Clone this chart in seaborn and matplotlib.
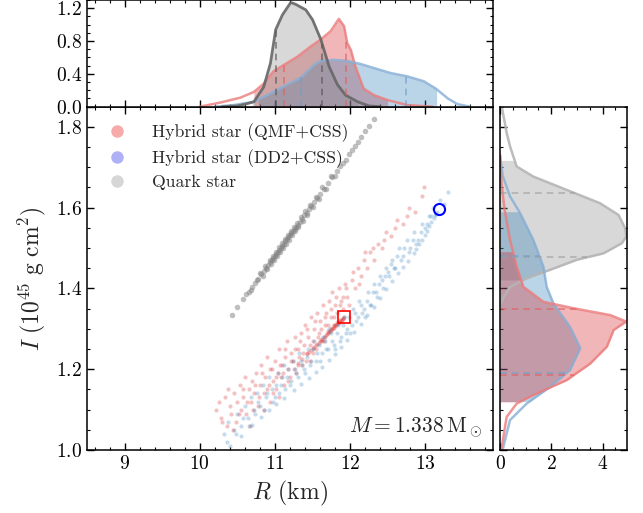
import numpy as np
import matplotlib
matplotlib.use("Agg")
import matplotlib.pyplot as plt
import seaborn as sns
from matplotlib.lines import Line2D
from matplotlib.ticker import MultipleLocator

sns.set_style("ticks")
plt.rcParams.update({
    "font.family": "serif",
    "font.serif": ["cmr10"],
    "mathtext.fontset": "cm",
    "axes.formatter.use_mathtext": True,
    "axes.unicode_minus": False,
    "axes.linewidth": 1.1,
    "axes.edgecolor": "black",
    "xtick.direction": "in", "ytick.direction": "in",
    "xtick.top": True, "ytick.right": True,
    "xtick.major.size": 5, "ytick.major.size": 5,
    "xtick.minor.size": 2.5, "ytick.minor.size": 2.5,
    "xtick.major.width": 1.0, "ytick.major.width": 1.0,
    "xtick.minor.width": 0.8, "ytick.minor.width": 0.8,
    "xtick.color": "black", "ytick.color": "black",
    "xtick.labelsize": 14, "ytick.labelsize": 14,
})

# ---------------- samples in the R-I plane ----------------
qmf_R = [10.22, 10.25, 10.28, 10.33, 10.36, 10.40, 10.42, 10.45, 10.48, 10.50,
         10.53, 10.55, 10.58, 10.60, 10.62, 10.65, 10.68, 10.70, 10.72, 10.75,
         10.77, 10.80, 10.82, 10.85, 10.87, 10.90, 10.92, 10.94, 10.96, 10.98,
         11.00, 11.02, 11.04, 11.06, 11.08, 11.10, 11.12, 11.14, 11.16, 11.18,
         11.20, 11.22, 11.24, 11.26, 11.28, 11.30, 11.32, 11.34, 11.36, 11.38,
         11.40, 11.42, 11.44, 11.46, 11.48, 11.50, 11.52, 11.54, 11.56, 11.58,
         11.60, 11.62, 11.64, 11.66, 11.68, 11.70, 11.72, 11.74, 11.76, 11.78,
         11.80, 11.83, 11.85, 11.88, 11.90, 11.93, 11.96, 11.99,
         12.02, 12.06, 12.10, 12.14, 12.18, 12.22, 12.27, 12.32, 12.37, 12.42,
         12.48, 12.55, 12.62, 12.70, 12.78, 12.86, 12.95, 12.98,
         10.30, 10.38, 10.44, 10.52, 10.57, 10.63, 10.67, 10.71, 10.74, 10.79,
         10.83, 10.86, 10.89, 10.93, 10.97, 11.01, 11.05, 11.07, 11.11, 11.13,
         11.17, 11.21, 11.25, 11.27, 11.31, 11.33, 11.37, 11.41, 11.43, 11.47,
         11.51, 11.53, 11.57, 11.61, 11.65, 11.67, 11.71, 11.75, 11.79, 11.81,
         11.86, 11.91, 11.95, 12.04, 12.12, 12.20, 12.30, 12.45, 12.60, 12.75,
         11.30, 11.36, 11.42, 11.48, 11.52, 11.56, 11.60, 11.63, 11.66, 11.69,
         11.72, 11.74, 11.76, 11.78, 11.80, 11.82, 11.84, 11.86, 11.88, 11.90,
         11.92, 11.71, 11.75, 11.79, 11.83, 11.87, 11.91,
         11.45, 11.50, 11.54, 11.58, 11.61, 11.65, 11.68, 11.73, 11.77, 11.81,
         11.85, 11.89]
qmf_I = [1.10, 1.12, 1.08, 1.13, 1.06, 1.11, 1.09, 1.14, 1.07, 1.12,
         1.16, 1.10, 1.13, 1.18, 1.09, 1.15, 1.12, 1.17, 1.14, 1.19,
         1.11, 1.16, 1.21, 1.14, 1.18, 1.23, 1.16, 1.12, 1.20, 1.17,
         1.22, 1.15, 1.19, 1.25, 1.18, 1.21, 1.16, 1.23, 1.27, 1.20,
         1.18, 1.24, 1.22, 1.28, 1.19, 1.25, 1.23, 1.29, 1.21, 1.26,
         1.31, 1.24, 1.28, 1.22, 1.33, 1.27, 1.30, 1.25, 1.34, 1.29,
         1.32, 1.27, 1.36, 1.31, 1.34, 1.29, 1.37, 1.33, 1.39, 1.31,
         1.36, 1.34, 1.40, 1.37, 1.35, 1.41, 1.38, 1.36,
         1.42, 1.40, 1.45, 1.43, 1.47, 1.45, 1.49, 1.47, 1.51, 1.50,
         1.54, 1.53, 1.57, 1.56, 1.60, 1.59, 1.63, 1.65,
         1.07, 1.15, 1.05, 1.09, 1.15, 1.12, 1.06, 1.10, 1.16, 1.13,
         1.19, 1.10, 1.15, 1.20, 1.14, 1.18, 1.13, 1.21, 1.19, 1.25,
         1.17, 1.22, 1.20, 1.25, 1.21, 1.27, 1.24, 1.22, 1.30, 1.26,
         1.24, 1.32, 1.28, 1.30, 1.27, 1.33, 1.31, 1.35, 1.33, 1.38,
         1.36, 1.38, 1.40, 1.44, 1.41, 1.49, 1.50, 1.52, 1.55, 1.58,
         1.215, 1.226, 1.237, 1.248, 1.255, 1.263, 1.270, 1.276, 1.281, 1.287,
         1.292, 1.296, 1.300, 1.303, 1.307, 1.311, 1.314, 1.318, 1.322, 1.325,
         1.329, 1.294, 1.301, 1.309, 1.316, 1.323, 1.327,
         1.243, 1.252, 1.259, 1.266, 1.272, 1.279, 1.285, 1.294, 1.301, 1.309,
         1.316, 1.323]

dd2_R = [10.40, 10.55, 10.70, 10.81, 10.92, 11.02, 11.12, 11.25, 11.35, 11.45,
         11.55, 11.63, 11.72, 11.80, 11.88, 11.96, 12.05, 12.14, 12.23, 12.32,
         12.40, 12.48, 12.56, 12.63, 12.70, 12.77, 12.85, 12.92, 12.99, 13.05,
         13.11, 13.16, 12.88, 12.95, 13.02, 13.08, 13.13,
         10.32, 10.38, 10.45, 10.50, 10.55, 10.60, 10.64, 10.68, 10.72, 10.76,
         10.80, 10.84, 10.88, 10.92, 10.96, 11.00, 11.04, 11.08, 11.12, 11.16,
         11.20, 11.24, 11.28, 11.32, 11.36, 11.40, 11.44, 11.48, 11.52, 11.56,
         11.60, 11.64, 11.68, 11.72, 11.76, 11.80, 11.84, 11.88, 11.92, 11.96,
         12.00, 12.04, 12.08, 12.12, 12.16, 12.20, 12.24, 12.28, 12.32, 12.36,
         12.40, 12.44, 12.48, 12.52, 12.56, 12.60, 12.65, 12.70, 12.75, 12.80,
         12.85, 12.90, 12.95, 13.00, 13.05, 13.10, 13.20, 13.30,
         10.36, 10.48, 10.58, 10.66, 10.74, 10.78, 10.86, 10.90, 10.98, 11.02,
         11.06, 11.10, 11.14, 11.18, 11.22, 11.26, 11.30, 11.34, 11.38, 11.42,
         11.46, 11.50, 11.54, 11.58, 11.62, 11.66, 11.70, 11.74, 11.78, 11.82,
         11.86, 11.90, 11.94, 11.98, 12.02, 12.06, 12.10, 12.14, 12.18, 12.22,
         12.26, 12.30, 12.34, 12.38, 12.42, 12.46, 12.50, 12.54, 12.58, 12.62,
         12.67, 12.72, 12.78, 12.83, 12.88, 12.94, 13.02, 13.08, 13.14, 13.25]
dd2_I = [1.010, 1.035, 1.062, 1.082, 1.098, 1.113, 1.128, 1.148, 1.163, 1.178,
         1.194, 1.206, 1.222, 1.238, 1.255, 1.272, 1.292, 1.313, 1.334, 1.355,
         1.376, 1.398, 1.419, 1.438, 1.453, 1.469, 1.487, 1.510, 1.533, 1.555,
         1.575, 1.590, 1.497, 1.520, 1.543, 1.565, 1.582,
         1.04, 1.07, 1.05, 1.09, 1.06, 1.11, 1.08, 1.13, 1.10, 1.14,
         1.11, 1.16, 1.13, 1.18, 1.15, 1.13, 1.19, 1.16, 1.21, 1.18,
         1.16, 1.22, 1.19, 1.24, 1.21, 1.19, 1.25, 1.22, 1.27, 1.24,
         1.22, 1.28, 1.25, 1.30, 1.27, 1.25, 1.31, 1.28, 1.33, 1.30,
         1.29, 1.35, 1.32, 1.37, 1.34, 1.33, 1.39, 1.36, 1.41, 1.38,
         1.43, 1.40, 1.45, 1.43, 1.47, 1.45, 1.50, 1.48, 1.52, 1.50,
         1.54, 1.52, 1.56, 1.55, 1.58, 1.60, 1.62, 1.64,
         1.02, 1.04, 1.08, 1.06, 1.09, 1.12, 1.10, 1.14, 1.12, 1.16,
         1.14, 1.18, 1.15, 1.20, 1.17, 1.20, 1.18, 1.22, 1.20, 1.23,
         1.21, 1.25, 1.22, 1.26, 1.24, 1.27, 1.25, 1.29, 1.26, 1.29,
         1.27, 1.31, 1.29, 1.33, 1.31, 1.34, 1.33, 1.36, 1.35, 1.37,
         1.36, 1.39, 1.39, 1.41, 1.42, 1.43, 1.44, 1.46, 1.45, 1.48,
         1.47, 1.50, 1.49, 1.52, 1.51, 1.54, 1.56, 1.58, 1.585, 1.61]

qs_R = [10.43, 10.50, 10.58, 10.65, 10.70, 10.74, 10.78, 10.82, 10.85, 10.88,
        10.91, 10.94, 10.96, 10.98, 11.00, 11.02, 11.04, 11.06, 11.08, 11.10,
        11.12, 11.14, 11.16, 11.18, 11.20, 11.22, 11.24, 11.26, 11.28, 11.30,
        11.33, 11.36, 11.39, 11.42, 11.45, 11.48, 11.52, 11.56, 11.60, 11.65,
        11.70, 11.76, 11.82, 11.90, 11.98, 12.06, 12.15, 12.25, 12.32,
        10.80, 10.84, 10.87, 10.90, 10.93, 10.95, 10.97, 10.99, 11.01, 11.03,
        11.05, 11.07, 11.09, 11.11, 11.13, 11.15, 11.17, 11.19, 11.21, 11.23,
        11.25, 11.27, 11.29, 11.31, 11.34, 11.37, 11.40, 11.43, 11.46, 11.50,
        11.54, 11.58, 11.63, 11.68, 11.74, 11.80,
        10.62, 10.68, 10.76, 11.86, 11.94, 12.02, 12.10, 12.20]
qs_I = [1.335, 1.353, 1.373, 1.391, 1.404, 1.414, 1.424, 1.435, 1.442, 1.450,
        1.458, 1.465, 1.471, 1.476, 1.481, 1.486, 1.491, 1.496, 1.501, 1.506,
        1.511, 1.517, 1.522, 1.527, 1.532, 1.537, 1.542, 1.547, 1.552, 1.558,
        1.565, 1.573, 1.581, 1.588, 1.596, 1.604, 1.614, 1.624, 1.634, 1.647,
        1.660, 1.675, 1.691, 1.711, 1.732, 1.752, 1.775, 1.801, 1.819,
        1.438, 1.432, 1.456, 1.447, 1.471, 1.460, 1.481, 1.470, 1.491, 1.480,
        1.502, 1.491, 1.512, 1.501, 1.522, 1.511, 1.532, 1.521, 1.543, 1.532,
        1.553, 1.542, 1.563, 1.552, 1.576, 1.568, 1.591, 1.583, 1.607, 1.601,
        1.627, 1.621, 1.650, 1.647, 1.678, 1.678,
        1.386, 1.397, 1.421, 1.704, 1.719, 1.744, 1.762, 1.790]

# highlighted models
qmf_mark = (11.92, 1.329)
dd2_mark = (13.18, 1.597)

# ---------------- marginal densities ----------------
# radius
qs_kR = [10.30, 10.50, 10.60, 10.72, 10.85, 10.94, 11.01, 11.10, 11.21, 11.27,
         11.41, 11.50, 11.61, 11.72, 11.83, 11.94, 12.10, 12.25, 12.40]
qs_kRd = [0.00, 0.01, 0.03, 0.06, 0.24, 0.53, 0.94, 1.12, 1.27, 1.25,
          1.18, 1.06, 0.82, 0.49, 0.27, 0.14, 0.06, 0.01, 0.00]
qmf_kR = [10.00, 10.27, 10.54, 10.72, 10.85, 10.98, 11.12, 11.30, 11.47, 11.61,
          11.74, 11.85, 11.92, 11.96, 12.01, 12.07, 12.18, 12.32, 12.50, 12.76, 13.10]
qmf_kRd = [0.00, 0.05, 0.11, 0.18, 0.28, 0.43, 0.51, 0.61, 0.73, 0.82,
           0.92, 1.07, 0.98, 0.78, 0.69, 0.49, 0.22, 0.14, 0.08, 0.02, 0.00]
dd2_kR = [10.20, 10.45, 10.72, 10.94, 11.16, 11.34, 11.52, 11.61, 11.78, 11.95,
          12.14, 12.32, 12.54, 12.76, 12.98, 13.14, 13.30, 13.43, 13.60]
dd2_kRd = [0.00, 0.02, 0.06, 0.16, 0.27, 0.35, 0.51, 0.56, 0.57, 0.56,
           0.52, 0.47, 0.41, 0.37, 0.31, 0.22, 0.10, 0.03, 0.00]

# moment of inertia
qs_kI = [1.360, 1.370, 1.404, 1.425, 1.446, 1.471, 1.487, 1.512, 1.529, 1.549,
         1.582, 1.611, 1.644, 1.677, 1.702, 1.752, 1.785, 1.850]
qs_kId = [0.00, 0.07, 0.39, 1.04, 1.95, 3.00, 4.04, 4.75, 4.93, 4.88,
          4.62, 3.90, 2.60, 1.30, 0.65, 0.39, 0.26, 0.07]
qmf_kI = [0.980, 1.000, 1.082, 1.115, 1.136, 1.173, 1.214, 1.256, 1.297, 1.318,
          1.334, 1.351, 1.367, 1.404, 1.454, 1.520, 1.595, 1.660, 1.730]
qmf_kId = [0.02, 0.05, 0.26, 0.65, 1.30, 2.60, 3.52, 4.17, 4.43, 4.92,
           4.30, 2.86, 1.69, 0.91, 0.65, 0.39, 0.18, 0.06, 0.00]
dd2_kI = [0.980, 1.000, 1.074, 1.115, 1.156, 1.198, 1.252, 1.305, 1.363, 1.404,
          1.454, 1.520, 1.587, 1.628, 1.680, 1.730]
dd2_kId = [0.05, 0.10, 0.39, 1.04, 1.95, 2.73, 3.13, 2.73, 2.08, 1.82,
           1.69, 1.30, 0.78, 0.39, 0.10, 0.00]

# shaded credible ranges and dashed quantiles
qs_R_band, qs_R_q = (10.70, 12.10), (11.02, 11.63)
qmf_R_band, qmf_R_q = (10.72, 12.50), (11.12, 11.95)
dd2_R_band, dd2_R_q = (10.78, 13.15), (11.35, 12.74)
qs_I_band, qs_I_q = (1.421, 1.717), (1.477, 1.636)
qmf_I_band, qmf_I_q = (1.119, 1.491), (1.185, 1.349)
dd2_I_band, dd2_I_q = (1.120, 1.590), (1.190, 1.480)

labels = ["Hybrid star (QMF+CSS)", "Hybrid star (DD2+CSS)", "Quark star"]

C_QMF, C_DD2, C_QS = "#d62728", "#1f77b4", "#808080"

fig = plt.figure(figsize=(6.43, 5.13), dpi=100)
ax = fig.add_axes([0.1353, 0.1228, 0.6314, 0.6692])
axt = fig.add_axes([0.1353, 0.7920, 0.6314, 0.2080], sharex=ax)
axr = fig.add_axes([0.7776, 0.1228, 0.1975, 0.6692], sharey=ax)

# joint scatter
sns.scatterplot(x=qmf_R, y=qmf_I, color=C_QMF, s=9, alpha=0.28, linewidth=0, ax=ax)
sns.scatterplot(x=dd2_R, y=dd2_I, color=C_DD2, s=9, alpha=0.25, linewidth=0, ax=ax)
sns.scatterplot(x=qs_R, y=qs_I, color=C_QS, s=16, alpha=0.5, linewidth=0, ax=ax)
ax.plot(*qmf_mark, marker="s", ms=8, mfc="none", mec="red", mew=1.2, ls="")
ax.plot(*dd2_mark, marker="o", ms=8, mfc="none", mec="blue", mew=1.5, ls="")

handles = [Line2D([], [], ls="", marker="o", ms=9, mfc=c, mec="none")
           for c in ["#f7aaaa", "#b0b0f7", "#d6d6d6"]]
ax.legend(handles, labels, loc="upper left", bbox_to_anchor=(0.039, 0.968),
          frameon=False, fontsize=12.7, handlelength=1.0, handletextpad=1.5,
          labelspacing=0.42, borderaxespad=0.0, borderpad=0.3)

ax.text(0.975, 0.03, r"$M = 1.338\,\mathrm{M}_\odot$", transform=ax.transAxes,
        ha="right", va="bottom", fontsize=15.5)

ax.set_xlim(8.5, 13.9)
ax.set_ylim(1.0, 1.85)
ax.xaxis.set_major_locator(MultipleLocator(1))
ax.xaxis.set_minor_locator(MultipleLocator(0.2))
ax.yaxis.set_major_locator(MultipleLocator(0.2))
ax.yaxis.set_minor_locator(MultipleLocator(0.05))
ax.set_xlabel(r"$R$ (km)", fontsize=17, labelpad=4)
ax.set_ylabel(r"$I\ (10^{45}\ \mathrm{g\ cm^2})$", fontsize=17, labelpad=6)


def band_fill(a, grid, dens, band, color, alpha, vertical):
    g = np.asarray(grid)
    d = np.asarray(dens)
    lo, hi = band
    xs = np.concatenate([[lo], g[(g > lo) & (g < hi)], [hi]])
    ds = np.interp(xs, g, d)
    if vertical:
        a.fill_betweenx(xs, 0, ds, color=color, alpha=alpha, lw=0)
    else:
        a.fill_between(xs, 0, ds, color=color, alpha=alpha, lw=0)


def quantile_marks(a, grid, dens, qs, color, vertical):
    for q in qs:
        h = float(np.interp(q, grid, dens))
        if vertical:
            a.hlines(q, 0, h, colors=color, linestyles=(0, (4, 3)), lw=1.2, alpha=0.7)
        else:
            a.vlines(q, 0, h, colors=color, linestyles=(0, (4, 3)), lw=1.2, alpha=0.7)


# top marginal: radius
band_fill(axt, qmf_kR, qmf_kRd, qmf_R_band, C_QMF, 0.33, False)
band_fill(axt, dd2_kR, dd2_kRd, dd2_R_band, C_DD2, 0.30, False)
band_fill(axt, qs_kR, qs_kRd, qs_R_band, C_QS, 0.30, False)
sns.lineplot(x=qmf_kR, y=qmf_kRd, color="#ec7b7b", lw=1.8, alpha=0.8,
             sort=False, estimator=None, ax=axt)
sns.lineplot(x=dd2_kR, y=dd2_kRd, color="#86aed6", lw=1.8, alpha=0.8,
             sort=False, estimator=None, ax=axt)
sns.lineplot(x=qs_kR, y=qs_kRd, color="#666666", lw=2.0, alpha=0.9,
             sort=False, estimator=None, ax=axt)
quantile_marks(axt, qmf_kR, qmf_kRd, qmf_R_q, "#e06060", False)
quantile_marks(axt, dd2_kR, dd2_kRd, dd2_R_q, "#6f9ccc", False)
quantile_marks(axt, qs_kR, qs_kRd, qs_R_q, "#555555", False)
axt.set_ylim(0, 1.3)
axt.yaxis.set_major_locator(MultipleLocator(0.4))
axt.yaxis.set_minor_locator(MultipleLocator(0.1))
axt.tick_params(labelbottom=False)
axt.set_xlabel("")
axt.set_ylabel("")

# right marginal: moment of inertia
band_fill(axr, qs_kI, qs_kId, qs_I_band, C_QS, 0.30, True)
band_fill(axr, dd2_kI, dd2_kId, dd2_I_band, C_DD2, 0.30, True)
band_fill(axr, qmf_kI, qmf_kId, qmf_I_band, C_QMF, 0.33, True)
sns.lineplot(x=qs_kId, y=qs_kI, color="#b5b5b5", lw=1.8, alpha=0.9,
             sort=False, estimator=None, orient="y", ax=axr)
sns.lineplot(x=dd2_kId, y=dd2_kI, color="#86aed6", lw=1.8, alpha=0.8,
             sort=False, estimator=None, orient="y", ax=axr)
sns.lineplot(x=qmf_kId, y=qmf_kI, color="#ec7b7b", lw=1.8, alpha=0.8,
             sort=False, estimator=None, orient="y", ax=axr)
quantile_marks(axr, qs_kI, qs_kId, qs_I_q, "#a0a0a0", True)
quantile_marks(axr, dd2_kI, dd2_kId, dd2_I_q, "#6f9ccc", True)
quantile_marks(axr, qmf_kI, qmf_kId, qmf_I_q, "#e06060", True)
axr.set_xlim(0, 4.95)
axr.xaxis.set_major_locator(MultipleLocator(2))
axr.xaxis.set_minor_locator(MultipleLocator(0.5))
axr.tick_params(labelleft=False)
axr.set_xlabel("")
axr.set_ylabel("")

for a in (ax, axt, axr):
    a.tick_params(which="both", direction="in", top=True, right=True)
    for s in a.spines.values():
        s.set_visible(True)
        s.set_linewidth(1.1)

fig.savefig("out.png", dpi=100)
